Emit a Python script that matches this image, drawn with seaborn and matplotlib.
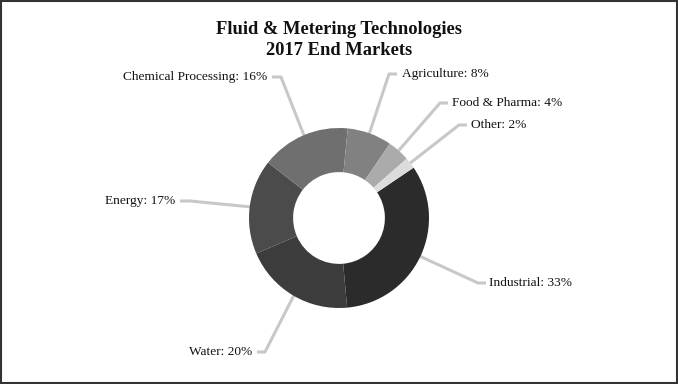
"""Donut chart: Fluid & Metering Technologies 2017 end markets."""

import numpy as np
import matplotlib.pyplot as plt
from matplotlib.patches import Rectangle
import seaborn as sns

MARKETS = ["Industrial", "Water", "Energy", "Chemical Processing",
           "Agriculture", "Food & Pharma", "Other"]
SHARES = [33, 20, 17, 16, 8, 4, 2]
COLORS = ["#2b2b2b", "#3c3c3c", "#4b4b4b", "#6f6f6f",
          "#818181", "#ababab", "#dcdcdc"]

# pie centre / radius in pixels (figure is 678x384 at dpi 100)
CX, CY, R = 339.0, 218.0, 90.0

# leader layout in pixels: elbow point, end of short horizontal run, text x, alignment
LAYOUT = {
    "Industrial": ((478, 283), (486, 283), 489, "left"),
    "Water": ((265, 352), (257, 352), 252, "right"),
    "Energy": ((190, 201), (180, 201), 175, "right"),
    "Chemical Processing": ((281, 77), (272, 77), 267, "right"),
    "Agriculture": ((389, 74), (397, 74), 402, "left"),
    "Food & Pharma": ((440, 103), (448, 103), 452, "left"),
    "Other": ((459, 125), (467, 125), 471, "left"),
}


def px(x, y):
    """Pixel position (origin top-left) to data coords with radius 1."""
    return (x - CX) / R, (CY - y) / R


def main() -> None:
    sns.set_theme(style="white")
    plt.rcParams["font.family"] = ["Liberation Serif", "DejaVu Serif"]

    fig = plt.figure(figsize=(6.78, 3.84), dpi=100)
    ax = fig.add_axes([0, 0, 1, 1])

    wedges, _ = ax.pie(
        SHARES,
        colors=COLORS,
        startangle=34,
        counterclock=False,
        radius=1.0,
        wedgeprops=dict(width=0.49, linewidth=0, edgecolor="none"),
    )
    for w in wedges:
        w.set_zorder(3)

    for w, name, share in zip(wedges, MARKETS, SHARES):
        mid = np.deg2rad((w.theta1 + w.theta2) / 2)
        sx, sy = 0.85 * np.cos(mid), 0.85 * np.sin(mid)
        elbow, seg_end, tx, ha = LAYOUT[name]
        ex, ey = px(*elbow)
        gx, gy = px(*seg_end)
        ax.plot([sx, ex, gx], [sy, ey, gy], color="#c8c8c8", lw=2.2,
                solid_capstyle="butt", zorder=1)
        txx, tyy = px(tx, elbow[1])
        ax.text(txx, tyy, f"{name}: {share}%", ha=ha, va="center",
                fontsize=9.6, color="#111111")

    ax.set_xlim(-CX / R, (678 - CX) / R)
    ax.set_ylim((CY - 384) / R, CY / R)
    ax.set_aspect("auto")
    ax.axis("off")

    fig.text(0.5, 1 - 40 / 384, "Fluid & Metering Technologies\n2017 End Markets",
             ha="center", va="center", fontsize=13.3, fontweight="bold",
             linespacing=1.32, color="#111111")

    fig.patches.append(Rectangle((0.001, 0.002), 0.997, 0.995,
                                 transform=fig.transFigure, fill=False,
                                 edgecolor="#333333", lw=1.5))

    fig.savefig("out.png", dpi=100)
    plt.close(fig)


if __name__ == "__main__":
    main()
